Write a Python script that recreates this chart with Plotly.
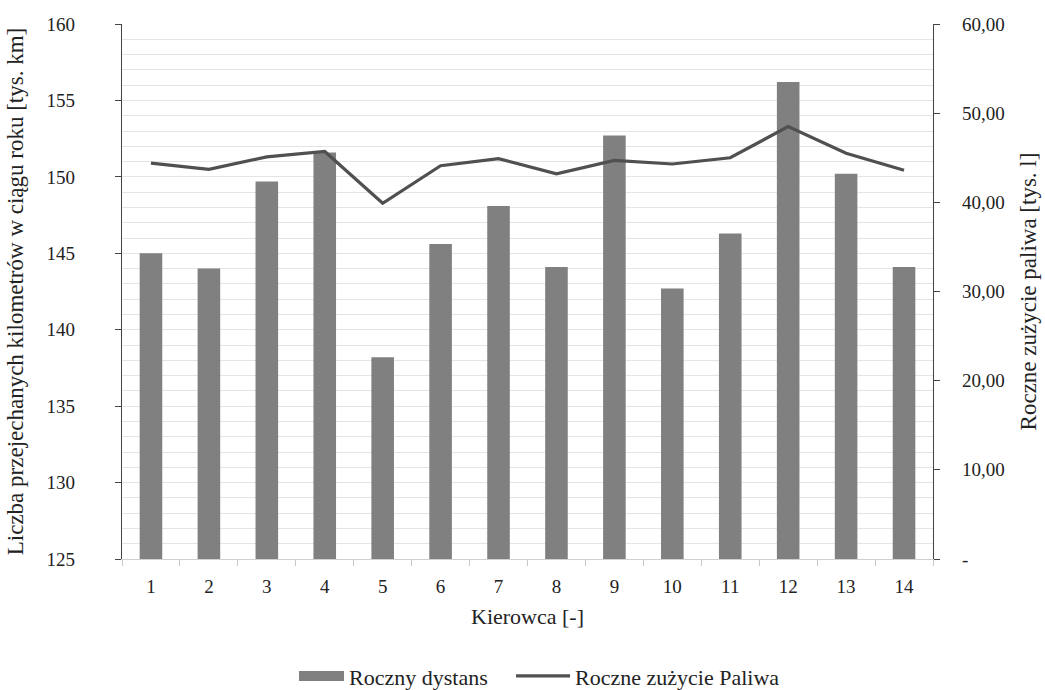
import plotly.graph_objects as go

# Kierowcy (drivers) and their yearly figures
kierowcy = ["1", "2", "3", "4", "5", "6", "7", "8", "9", "10", "11", "12", "13", "14"]
dystans_tys_km = [145.0, 144.0, 149.7, 151.6, 138.2, 145.6, 148.1, 144.1, 152.7, 142.7, 146.3, 156.2, 150.2, 144.1]
paliwo_tys_l = [44.4, 43.7, 45.1, 45.7, 39.9, 44.1, 44.9, 43.2, 44.7, 44.3, 45.0, 48.5, 45.5, 43.6]

left_ticks = [125, 130, 135, 140, 145, 150, 155, 160]
right_ticks = [0, 10, 20, 30, 40, 50, 60]
right_ticktext = ["-", "10,00", "20,00", "30,00", "40,00", "50,00", "60,00"]

FONT = '"Liberation Serif", "Times New Roman", Times, "DejaVu Serif", serif'
TXT = "#222222"
BAR = "#808080"
LINE = "#505050"
GRID = "#e4e4e4"

fig = go.Figure()

fig.add_trace(go.Bar(
    x=kierowcy, y=dystans_tys_km, base=0,
    marker=dict(color=BAR, line=dict(width=0)),
    name="Roczny dystans", showlegend=False, yaxis="y",
))

# legend entry for the bars, drawn as a wide flat swatch
fig.add_trace(go.Scatter(
    x=[None], y=[None], mode="lines", name="Roczny dystans",
    line=dict(color=BAR, width=10), yaxis="y", showlegend=True,
    legend="legend",
))

fig.add_trace(go.Scatter(
    x=kierowcy, y=paliwo_tys_l, mode="lines",
    line=dict(color=LINE, width=3.2),
    name="Roczne zużycie Paliwa", yaxis="y2", legend="legend2",
))

legend_common = dict(
    orientation="h", xanchor="left", y=-0.219, yanchor="middle",
    font=dict(family=FONT, size=22, color=TXT),
    bgcolor="rgba(0,0,0,0)",
)

fig.update_layout(
    width=1045, height=690,
    margin=dict(l=122, r=112, t=24, b=131, autoexpand=False),
    paper_bgcolor="white", plot_bgcolor="white",
    font=dict(family=FONT, size=19, color=TXT),
    bargap=0.61,
    showlegend=True,
    legend=dict(x=0.2121, itemwidth=45, **legend_common),
    legend2=dict(x=0.4797, itemwidth=54, **legend_common),
    xaxis=dict(
        type="category",
        showline=True, linecolor="#d0d0d0", linewidth=1,
        ticks="outside", ticklen=6, tickcolor="#c8c8c8", tickson="boundaries",
        ticklabelstandoff=10,
        showgrid=False,
        tickfont=dict(family=FONT, size=19, color=TXT),
        title=dict(text="Kierowca [-]", standoff=12,
                   font=dict(family=FONT, size=22, color=TXT)),
    ),
    yaxis=dict(
        range=[125, 160],
        tickvals=left_ticks,
        showline=True, linecolor="#444", linewidth=1.3,
        ticks="outside", ticklen=6, tickcolor="#444",
        showgrid=True, gridcolor=GRID, gridwidth=1,
        minor=dict(dtick=1, showgrid=True, gridcolor=GRID, gridwidth=1, ticks=""),
        zeroline=False,
        ticklabelstandoff=36,
        tickfont=dict(family=FONT, size=19, color=TXT),
        title=dict(text="Liczba przejechanych kilometrów w ciągu roku [tys. km]",
                   standoff=16, font=dict(family=FONT, size=23, color=TXT)),
    ),
    yaxis2=dict(
        range=[0, 60], overlaying="y", side="right",
        tickvals=right_ticks, ticktext=right_ticktext,
        showline=True, linecolor="#444", linewidth=1.3,
        ticks="outside", ticklen=6, tickcolor="#444",
        showgrid=False, zeroline=False,
        ticklabelstandoff=18,
        tickfont=dict(family=FONT, size=19, color=TXT),
        title=dict(text="Roczne zużycie paliwa [tys. l]", standoff=16,
                   font=dict(family=FONT, size=23, color=TXT)),
    ),
)

fig.write_html("out.html")
